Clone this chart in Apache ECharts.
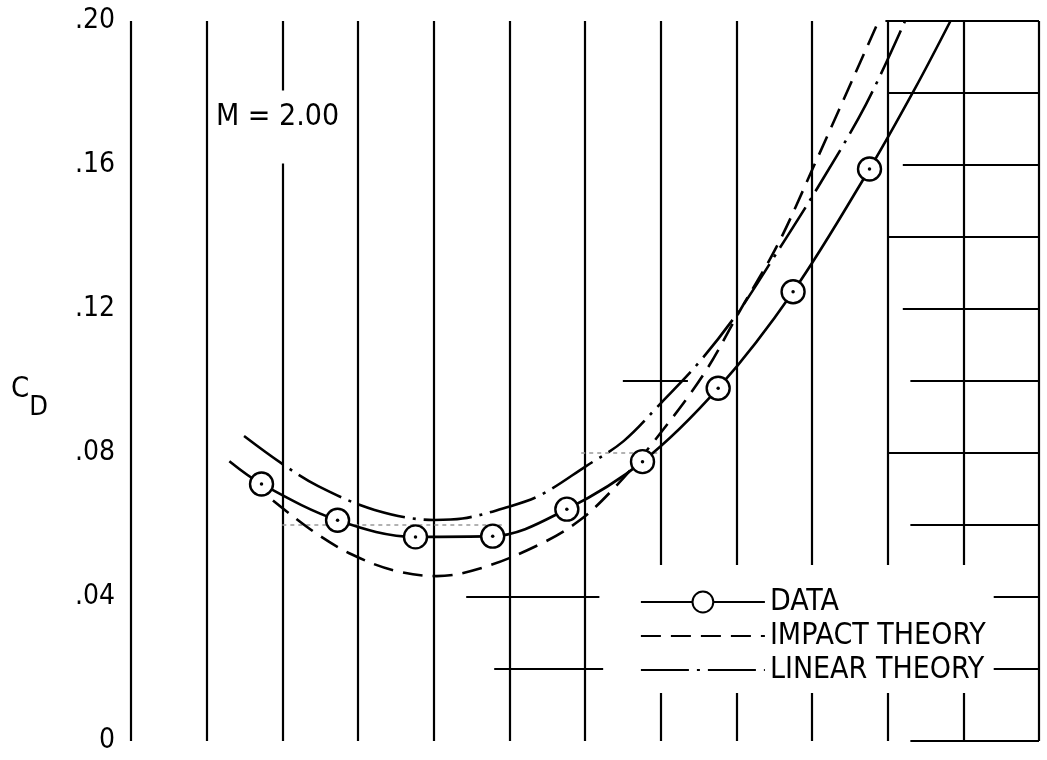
<!DOCTYPE html>
<html><head><meta charset="utf-8">
<script src="https://cdn.jsdelivr.net/npm/echarts@6/dist/echarts.min.js"></script>
<style>html,body{margin:0;padding:0;background:#fff}#c{width:1047px;height:760px}</style>
</head><body><div id="c"></div>
<script>
// ---- values ----
const dataAlpha = [1.725, 2.73, 3.76, 4.78, 5.76, 6.76, 7.76, 8.75, 9.76];
const dataCD    = [0.0714, 0.0613, 0.0567, 0.0569, 0.0644, 0.0776, 0.0980, 0.1248, 0.1589];

const fairAlpha = [1.30, 1.725, 2.73, 3.76, 4.78, 5.76, 6.76, 7.76, 8.75, 9.76, 10.36, 10.83];
const fairCD    = [0.0777, 0.0714, 0.0613, 0.0567, 0.0569, 0.0644, 0.0776, 0.0980, 0.1248, 0.1589, 0.1812, 0.200];

const impactAlpha = [1.876, 2.424, 2.921, 3.473, 4.04, 4.61, 5.37, 5.93, 6.40, 6.88, 7.56, 8.06, 8.55, 9.02, 9.88];
const impactCD    = [0.0668, 0.0580, 0.0518, 0.0474, 0.0458, 0.0479, 0.0543, 0.0613, 0.0706, 0.0824, 0.1016, 0.1200, 0.1380, 0.1595, 0.200];

const linearAlpha = [1.494, 1.99, 2.474, 3.22, 4.01, 4.38, 4.98, 5.42, 6.01, 6.51, 7.01, 7.50, 8.02, 8.47, 9.08, 9.71, 10.23];
const linearCD    = [0.0847, 0.0771, 0.0708, 0.0642, 0.0614, 0.0618, 0.0650, 0.0684, 0.0763, 0.0833, 0.0940, 0.1050, 0.1190, 0.1335, 0.1539, 0.1767, 0.200];

const yTicks      = [0, 0.04, 0.08, 0.12, 0.16, 0.20];
const yTickLabels = ['0', '.04', '.08', '.12', '.16', '.20'];
const seriesNames = ['DATA', 'IMPACT THEORY', 'LINEAR THEORY'];
const machLabel   = 'M = 2.00';

// partial graph-paper rulings: [C_D level, alpha from, alpha to]
const paperSolid = [
  [0.20, 9.97, 12], [0.18, 10.0, 12], [0.16, 10.2, 12], [0.14, 10.0, 12],
  [0.12, 10.2, 12], [0.10, 10.3, 12], [0.10, 6.5, 7.36], [0.08, 10.0, 12],
  [0.06, 10.3, 12], [0.04, 10.0, 12], [0.04, 4.43, 6.19], [0.02, 10.0, 12],
  [0.02, 4.8, 6.24], [0.00, 10.3, 12]
];
const paperFaint = [[0.08, 5.95, 7.0], [0.06, 2.0, 4.9]];

// ---- chart ----
const FONT = "'DejaVu Sans Condensed', 'Liberation Sans Narrow', 'DejaVu Sans', sans-serif";
const zip = (xs, ys) => xs.map((x, i) => [x, ys[i]]);
const segs = arr => arr.map(([v, a, b]) => ({ coords: [[a, v], [b, v]] }));
const hidden = { color: 'rgba(0,0,0,0)', borderColor: 'rgba(0,0,0,0)', borderWidth: 0, opacity: 0 };

const chart = echarts.init(document.getElementById('c'), null, { renderer: 'canvas' });
chart.setOption({
  animation: false,
  backgroundColor: '#fff',
  title: {
    text: machLabel, left: 210, top: 92, padding: [12, 6, 31, 6], backgroundColor: '#fff',
    textStyle: { fontSize: 30, lineHeight: 27, fontWeight: 'normal', color: '#000', fontFamily: FONT }
  },
  grid: { left: 131, right: 8, top: 21, bottom: 19, containLabel: false },
  xAxis: {
    type: 'value', min: 0, max: 12, interval: 1,
    axisLine: { show: false }, axisTick: { show: false }, axisLabel: { show: false },
    splitLine: { show: true, lineStyle: { color: '#000', width: 2.2 } }
  },
  yAxis: {
    type: 'value', min: 0, max: 0.2, interval: 0.04,
    axisLine: { show: false }, axisTick: { show: false },
    splitLine: { show: false },
    axisLabel: {
      margin: 16, color: '#000', fontSize: 28, fontFamily: FONT,
      formatter: v => { const i = yTicks.findIndex(t => Math.abs(t - v) < 1e-9); return i >= 0 ? yTickLabels[i] : ''; }
    },
    name: '{c|C}{d|D}', nameLocation: 'middle', nameGap: 83, nameRotate: 0,
    nameTextStyle: {
      color: '#000', fontFamily: FONT, padding: [16, 0, 0, 0],
      rich: {
        c: { fontSize: 29, color: '#000', fontFamily: FONT },
        d: { fontSize: 27, color: '#000', fontFamily: FONT, padding: [38, 0, 0, 0] }
      }
    }
  },
  legend: {
    orient: 'vertical', left: 630, top: 565, padding: [22, 8, 8, 10],
    itemGap: 4, itemWidth: 124, itemHeight: 26, backgroundColor: '#fff',
    selectedMode: false,
    lineStyle: { width: 1.8 },
    textStyle: { fontSize: 30, color: '#000', fontFamily: FONT },
    data: [
      { name: seriesNames[0] },
      { name: seriesNames[1], itemStyle: hidden },
      { name: seriesNames[2], itemStyle: hidden }
    ]
  },
  series: [
    {
      name: seriesNames[0], type: 'line', data: zip(fairAlpha, fairCD), smooth: 0.35,
      symbol: 'emptyCircle', showSymbol: false, color: '#000',
      lineStyle: { color: '#000', width: 2.6 }, z: 3, silent: true
    },
    {
      name: seriesNames[0], type: 'scatter', data: zip(dataAlpha, dataCD),
      symbol: 'circle', symbolSize: 23,
      itemStyle: { color: '#fff', borderColor: '#000', borderWidth: 2.4, opacity: 1 }, z: 5, silent: true
    },
    {
      name: seriesNames[0], type: 'scatter', data: zip(dataAlpha, dataCD),
      symbol: 'circle', symbolSize: 3.5, itemStyle: { color: '#000', opacity: 1 }, z: 6, silent: true
    },
    {
      name: seriesNames[1], type: 'line', data: zip(impactAlpha, impactCD), smooth: 0.35,
      symbol: 'none', color: '#000',
      lineStyle: { color: '#000', width: 2.6, type: [20, 10] }, z: 3, silent: true
    },
    {
      name: seriesNames[2], type: 'line', data: zip(linearAlpha, linearCD), smooth: 0.35,
      symbol: 'none', color: '#000',
      lineStyle: { color: '#000', width: 2.6, type: [48, 8, 3, 8] }, z: 3, silent: true
    },
    {
      name: 'paper', type: 'lines', coordinateSystem: 'cartesian2d', data: segs(paperSolid),
      lineStyle: { color: '#000', width: 2.2, opacity: 1 }, z: 1, silent: true
    },
    {
      name: 'paper faint', type: 'lines', coordinateSystem: 'cartesian2d', data: segs(paperFaint),
      lineStyle: { color: '#999', width: 1.5, type: [4, 4], opacity: 1 }, z: 1, silent: true
    }
  ]
});
</script></body></html>
